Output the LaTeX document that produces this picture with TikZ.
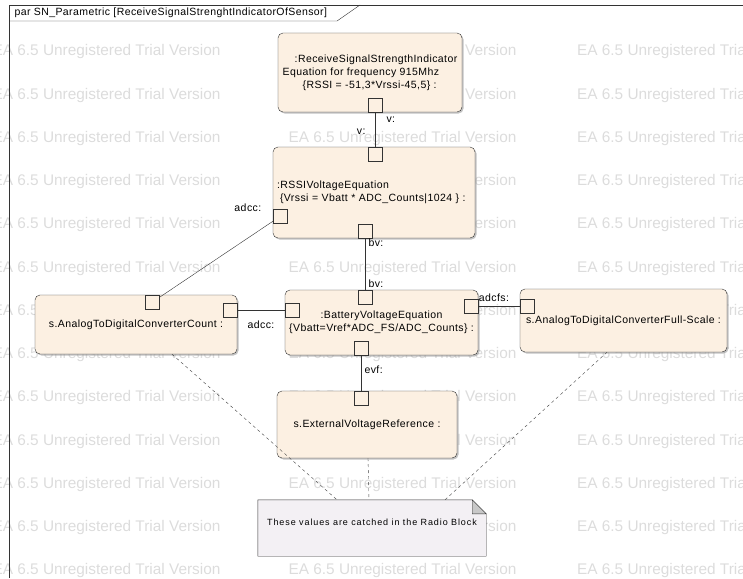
\documentclass[tikz,border=0pt]{standalone}
\usepackage{fontspec}
\setmainfont{Liberation Sans}
\newfontfamily\eafont[LetterSpace=4]{Liberation Sans}
\newfontfamily\notefont[LetterSpace=10]{Liberation Sans}
\usetikzlibrary{positioning,shadows}
\definecolor{boxfill}{HTML}{FCF0E2}
\definecolor{notefill}{HTML}{F3F0F4}
\definecolor{foldfill}{HTML}{C8C8C8}
\definecolor{wmgray}{HTML}{DCDCDC}
\pgfdeclarelayer{back}
\pgfsetlayers{back,main}

\begin{document}
\begin{tikzpicture}[x=1pt, y=-1pt,
        part node/.style={rectangle, rounded corners=5pt, draw=black!80, fill=boxfill, inner sep=2pt,
          drop shadow={shadow xshift=1.5pt, shadow yshift=-1.5pt, fill=black!40, opacity=.6}},
        port/.style={rectangle, draw=black!80, fill=boxfill, minimum size=14pt, inner sep=0pt},
        wm/.style={anchor=west, text=wmgray, font=\fontsize{15.4}{18}\selectfont},
        conn/.style={draw=black!80},
        trace/.style={draw=black!75, dash pattern=on 3pt off 3pt}]
        \tikzstyle{every node}=[font=\eafont\fontsize{10.5}{13}\selectfont]

          \useasboundingbox (0,0) rectangle (743,578);

          \begin{pgfonlayer}{back}
            \foreach \r in {0,...,12}
              \foreach \c in {-11,285,573.5}
                \node[wm] (wm-\r-\c) at (\c, 52+43.25*\r) {EA 6.5 Unregistered Trial Version};
          \end{pgfonlayer}

          \draw[black!80] (9,578) -- (9,5) -- (743,5);
          \draw[black!80] (9,21) -- (337,21) -- (360,5);
          \node[anchor=west, font=\eafont\fontsize{10.5}{12}\selectfont] (title) at (11,13) {par SN\_Parametric [ReceiveSignalStrenghtIndicatorOfSensor]};

          \node[part node, minimum width=184pt, minimum height=79pt, align=left] (sig) at (370,72.5)
            {\hspace{12pt}:ReceiveSignalStrengthIndicator\\Equation for frequency 915Mhz\\\hspace{20pt}\{RSSI = -51,3*Vrssi-45,5\} :};
          \node[part node, minimum height=91pt, text width=194pt, inner xsep=4pt, align=left] (volt) at (374,192.5)
            {:RSSIVoltageEquation\\\hspace{3pt}\{Vrssi = Vbatt * ADC\_Counts|1024 \} :};
          \node[part node, minimum width=193pt, minimum height=65pt, align=center] (bat) at (381.5,322.5)
            {:BatteryVoltageEquation\\\{Vbatt=Vref*ADC\_FS/ADC\_Counts\} :};
          \node[part node, minimum width=202pt, minimum height=59pt] (cnt) at (136,324.5) {s.AnalogToDigitalConverterCount :};
          \node[part node, minimum width=207pt, minimum height=63pt] (fs) at (623.5,320.5) {s.AnalogToDigitalConverterFull-Scale :};
          \node[part node, minimum width=180pt, minimum height=67pt] (ext) at (367,424.5) {s.ExternalVoltageReference :};
          \node[font=\notefont\fontsize{9}{11}\selectfont, minimum width=228pt, inner ysep=0pt,
            text height=25pt, text depth=31pt] (note) at (372,528) {These values are catched in the Radio Block};

          \begin{pgfonlayer}{back}
            \draw[black!80, fill=notefill] (note.south west) -- (note.north west) -- ([xshift=-14pt]note.north east)
              -- ([yshift=-14pt]note.north east) -- (note.south east) -- cycle;
            \draw[black!80, fill=foldfill] ([xshift=-14pt]note.north east) -- ([xshift=-14pt,yshift=-14pt]note.north east)
              -- ([yshift=-14pt]note.north east) -- cycle;
          \end{pgfonlayer}

          \node[port, anchor=south] (sig-v) at ([xshift=5pt]sig.south) {};
          \node[port, anchor=north] (volt-v) at ([xshift=1pt]volt.north) {};
          \node[port, anchor=west] (volt-adcc) at ([yshift=-24pt]volt.west) {};
          \node[port, anchor=south] (volt-bv) at ([xshift=-9pt]volt.south) {};
          \node[port, anchor=north] (bat-bv) at ([xshift=-16.5pt]bat.north) {};
          \node[port, anchor=west] (bat-adcc) at ([yshift=12.5pt]bat.west) {};
          \node[port, anchor=east] (bat-adcfs) at ([yshift=16.5pt]bat.east) {};
          \node[port, anchor=south] (bat-evf) at ([xshift=-20.5pt]bat.south) {};
          \node[port, anchor=north] (cnt-top) at ([xshift=16.5pt]cnt.north) {};
          \node[port, anchor=east] (cnt-right) at ([yshift=14.5pt]cnt.east) {};
          \node[port, anchor=west] (fs-adcfs) at ([yshift=14.5pt]fs.west) {};
          \node[port, anchor=north] (ext-evf) at ([xshift=-6pt]ext.north) {};

          \path[conn]
            (sig-v) edge node[pos=.22, right, xshift=8pt] {v:} node[pos=.55, left, xshift=-6pt] {v:} (volt-v)
            (volt-bv) edge node[pos=.08, right] {bv:} node[pos=.88, right] {bv:} (bat-bv)
            (volt-adcc) edge node[pos=0, anchor=south east, xshift=-8pt, yshift=6pt] {adcc:} (cnt-top)
            (cnt-right) edge node[midway, below=7pt] {adcc:} (bat-adcc)
            (bat-adcfs) edge node[pos=.38, above=1pt] {adcfs:} (fs-adcfs)
            (bat-evf) edge node[pos=.42, right] {evf:} (ext-evf);

          \path[trace]
            ([xshift=36pt]cnt.south) edge ([xshift=-35pt]note.north)
            ([xshift=1pt]ext.south) edge ([xshift=-3pt]note.north)
            ([xshift=-16.5pt]fs.south) edge ([xshift=73pt]note.north);

        \end{tikzpicture}
\end{document}
